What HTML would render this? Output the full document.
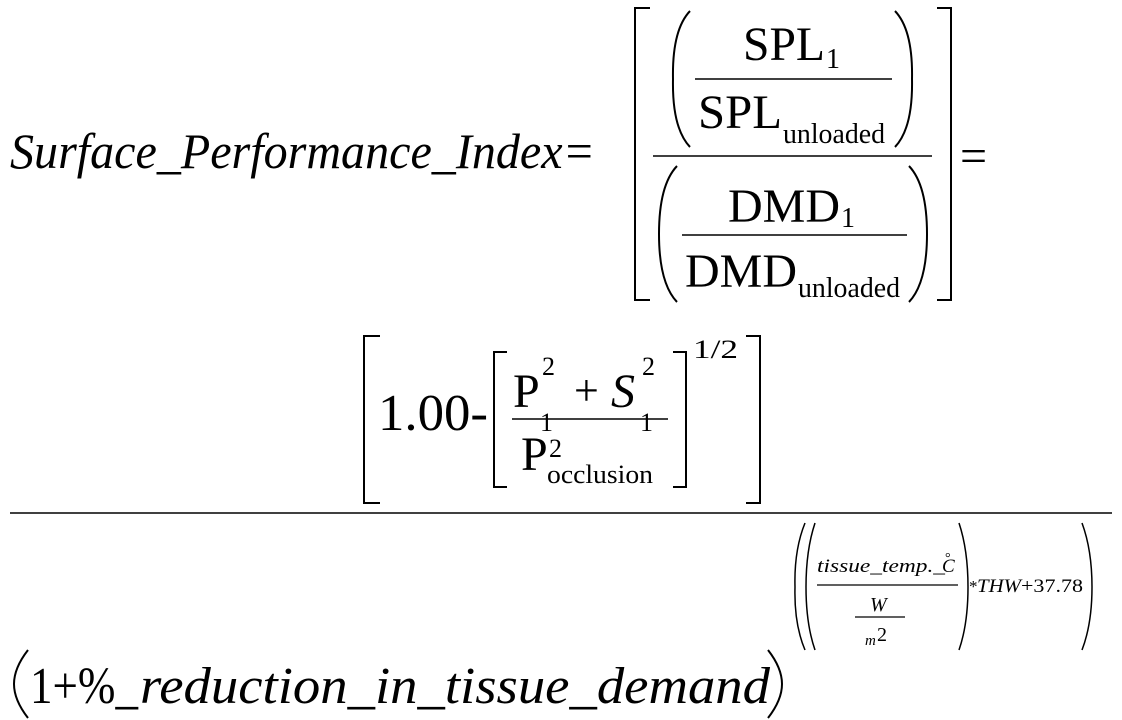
<!DOCTYPE html>
<html><head><meta charset="utf-8"><style>
html,body{margin:0;padding:0;background:#fff;}
svg{display:block;}
text{font-family:"Liberation Serif",serif;fill:#000;}
.i{font-style:italic;}
</style></head><body>
<svg width="1122" height="720" viewBox="0 0 1122 720" xmlns="http://www.w3.org/2000/svg">
<g fill="none" stroke="#000" stroke-width="2">
<!-- top big brackets -->
<polyline points="650,8 635,8 635,300 650,300"/>
<polyline points="937,8 951,8 951,300 937,300"/>
<!-- parens top -->
<path d="M690,11 Q672,30 673,79 Q672,128 690,147"/>
<path d="M895,11 Q913,30 912,79 Q913,128 895,147"/>
<path d="M677,166 Q659,185 659,234 Q659,283 677,302"/>
<path d="M909,166 Q927,185 927,234 Q927,283 909,302"/>
<!-- lines -->
<line x1="695" y1="79" x2="892" y2="79" stroke-width="1.5"/>
<line x1="653" y1="156" x2="932" y2="156" stroke-width="1.5"/>
<line x1="682" y1="235" x2="907" y2="235" stroke-width="1.5"/>
<!-- middle brackets -->
<polyline points="380,336 364,336 364,503 380,503"/>
<polyline points="746,336 760,336 760,503 746,503"/>
<polyline points="507,352 494,352 494,487 507,487"/>
<polyline points="673,352 686,352 686,487 673,487"/>
<line x1="512" y1="419" x2="668" y2="419" stroke-width="1.5"/>
<!-- main fraction -->
<line x1="10" y1="513" x2="1112" y2="513" stroke-width="1.5"/>
<!-- exponent parens -->
<path d="M805,523 Q794,550 795,587 Q794,624 805,650" stroke-width="1.5"/>
<path d="M815,523 Q806,550 806,587 Q806,624 815,650" stroke-width="1.5"/>
<path d="M959,523 Q968,550 968,587 Q968,624 959,650" stroke-width="1.5"/>
<path d="M1082,523 Q1092,550 1092,587 Q1092,624 1082,650" stroke-width="1.5"/>
<line x1="817" y1="585" x2="958" y2="585" stroke-width="1.2"/>
<line x1="855" y1="617" x2="905" y2="617" stroke-width="1.2"/>
<!-- bottom parens -->
<path d="M28,650 Q14,668 14,684 Q14,700 28,718"/>
<path d="M768,650 Q782,668 782,684 Q782,700 768,718"/>
</g>
<text class="i" x="10" y="168" font-size="50" textLength="585" lengthAdjust="spacingAndGlyphs">Surface_Performance_Index=</text>
<text x="743" y="60" font-size="48" textLength="82" lengthAdjust="spacingAndGlyphs">SPL</text>
<text x="826" y="68" font-size="28">1</text>
<text x="698" y="128" font-size="48" textLength="84" lengthAdjust="spacingAndGlyphs">SPL</text>
<text x="783" y="143" font-size="28" textLength="102" lengthAdjust="spacingAndGlyphs">unloaded</text>
<text x="728" y="222" font-size="48" textLength="112" lengthAdjust="spacingAndGlyphs">DMD</text>
<text x="841" y="227" font-size="28">1</text>
<text x="685" y="287" font-size="48" textLength="112" lengthAdjust="spacingAndGlyphs">DMD</text>
<text x="798" y="297" font-size="28" textLength="102" lengthAdjust="spacingAndGlyphs">unloaded</text>
<text x="960" y="172" font-size="48">=</text>
<text x="378" y="430" font-size="52" textLength="110" lengthAdjust="spacingAndGlyphs">1.00-</text>
<text x="513" y="407" font-size="48">P</text>
<text x="540" y="431" font-size="26">1</text>
<text x="542" y="375" font-size="26">2</text>
<text x="574" y="405" font-size="44">+</text>
<text class="i" x="611" y="407" font-size="48">S</text>
<text x="640" y="431" font-size="26">1</text>
<text x="642" y="375" font-size="26">2</text>
<text x="521" y="470" font-size="48">P</text>
<text x="549" y="457" font-size="26">2</text>
<text x="547" y="483" font-size="26" textLength="106" lengthAdjust="spacingAndGlyphs">occlusion</text>
<text x="693" y="358" font-size="26" textLength="45" lengthAdjust="spacingAndGlyphs">1/2</text>
<text class="i" x="817" y="572" font-size="19" textLength="128" lengthAdjust="spacingAndGlyphs">tissue_temp._</text>
<text x="945" y="562" font-size="14">°</text>
<text class="i" x="942" y="572" font-size="19">C</text>
<text class="i" x="870" y="611" font-size="20">W</text>
<text class="i" x="865" y="645" font-size="15">m</text>
<text x="877" y="641" font-size="20">2</text>
<text x="969" y="592" font-size="17">*</text>
<text class="i" x="977" y="592" font-size="19" textLength="44" lengthAdjust="spacingAndGlyphs">THW</text>
<text x="1021" y="592" font-size="19" textLength="62" lengthAdjust="spacingAndGlyphs">+37.78</text>
<text x="30" y="703" font-size="52" textLength="108" lengthAdjust="spacingAndGlyphs">1+%_</text>
<text class="i" x="140" y="703" font-size="52" textLength="630" lengthAdjust="spacingAndGlyphs">reduction_in_tissue_demand</text>
</svg>
</body></html>
